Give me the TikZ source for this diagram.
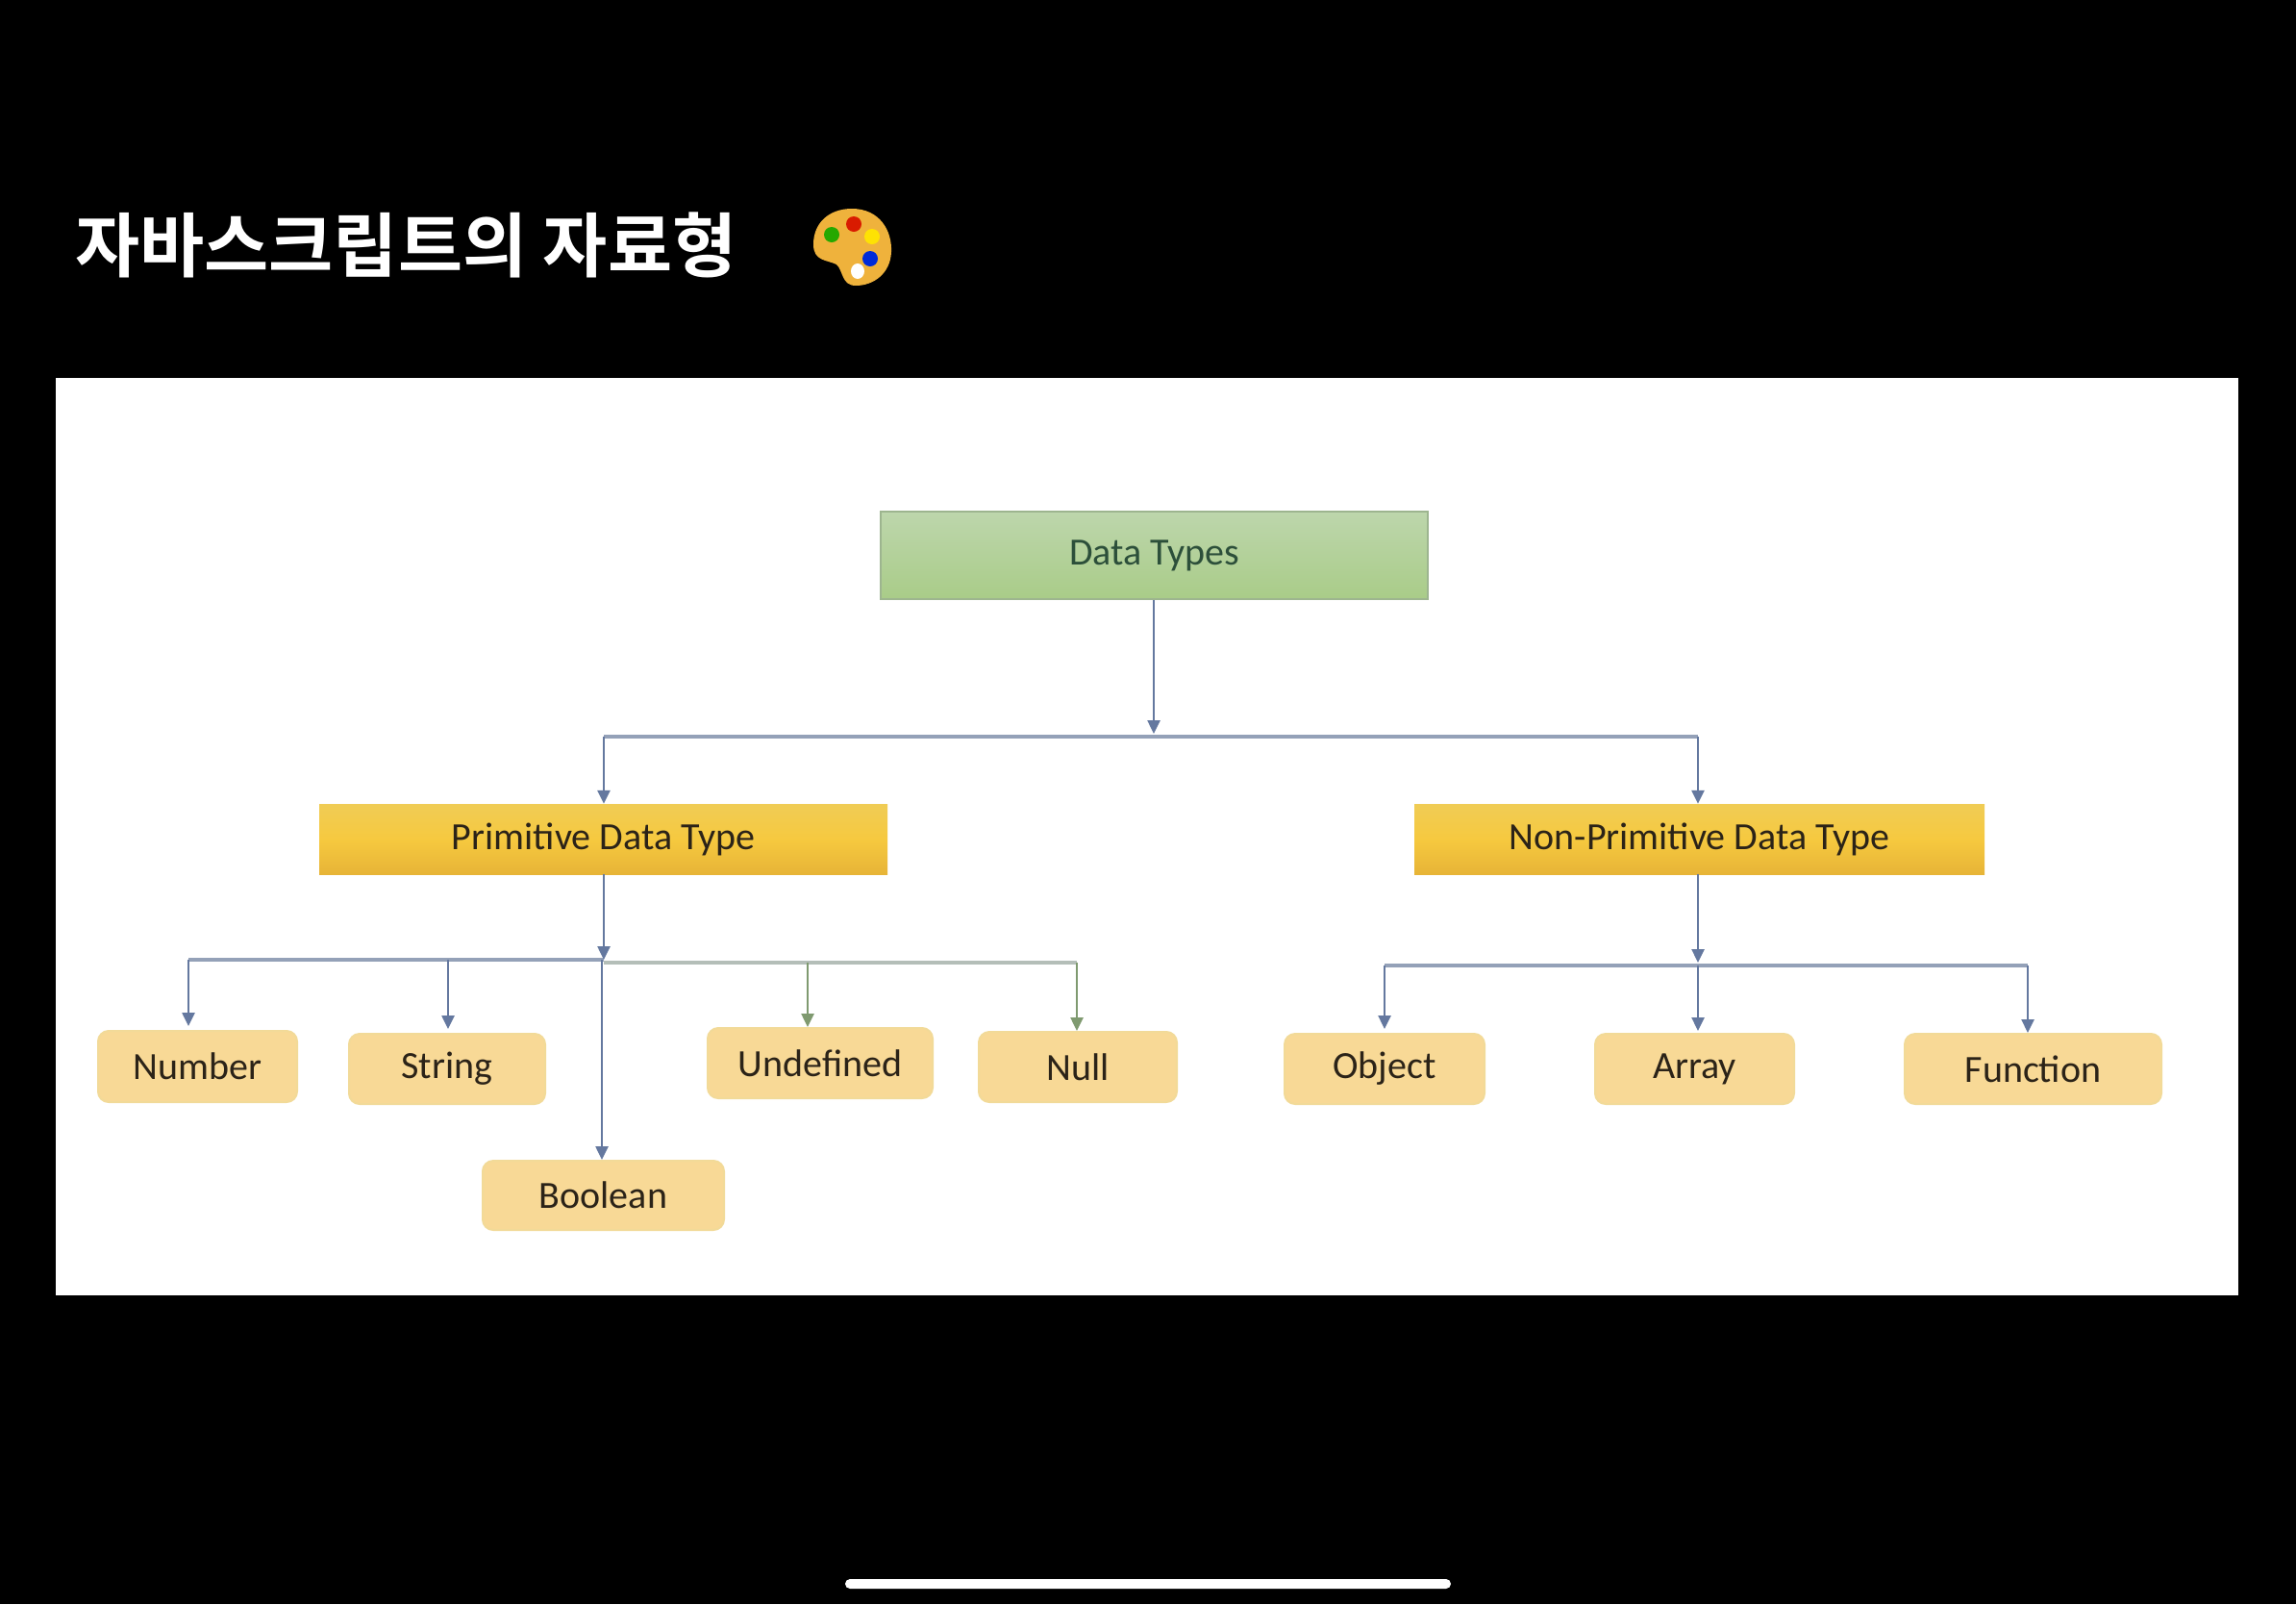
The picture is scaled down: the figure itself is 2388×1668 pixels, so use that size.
\documentclass[tikz,border=0pt]{standalone}
\usepackage{fontspec}
\setmainfont{Carlito}
\newfontfamily\krfont{Noto Sans CJK KR}[BoldFont={Noto Sans CJK KR Bold}]
\usetikzlibrary{arrows.meta,calc}
\definecolor{linkblue}{HTML}{64789F}
\definecolor{barblue}{HTML}{94A1B8}
\definecolor{linkgreen}{HTML}{7F9A70}
\definecolor{bargreen}{HTML}{B4BEB8}
\definecolor{inktext}{HTML}{2B2318}
\tikzset{
  x=1pt,y=-1pt,
  rootbox/.style={draw=rootedge,line width=2pt,top color=rootTop,bottom color=rootBot,text=rootink,inner sep=0pt,font=\fontsize{40}{44}\selectfont},
  midbox/.style={draw=none,top color=midTop,bottom color=midBot,middle color=midMid,text=inktext,inner sep=0pt,font=\fontsize{40}{44}\selectfont},
  leafbox/.style={draw=leafedge,line width=2pt,fill=leaffill,rounded corners=11pt,text=inktext,inner sep=0pt,font=\fontsize{40}{44}\selectfont},
  link/.style={draw=linkblue,line width=2.5pt},
  linkarrow/.style={link,-{Triangle[width=13pt,length=14pt]}},
  bar/.style={draw=barblue,line width=3.5pt},
  greenarrow/.style={draw=linkgreen,line width=2.5pt,-{Triangle[width=13pt,length=14pt]}},
  greenbar/.style={draw=bargreen,line width=3.5pt},
}
\definecolor{rootedge}{HTML}{9DB58F}
\definecolor{rootTop}{HTML}{BDD6AC}
\definecolor{rootBot}{HTML}{A9CC88}
\definecolor{rootink}{HTML}{2C4F3A}
\definecolor{midTop}{HTML}{F0CC55}
\definecolor{midMid}{HTML}{F6C93F}
\definecolor{midBot}{HTML}{E7B437}
\definecolor{leafedge}{HTML}{F2DA98}
\definecolor{leaffill}{HTML}{F8D996}
\definecolor{palOrange}{HTML}{EFB23C}
\begin{document}
\begin{tikzpicture}
\useasboundingbox (0,0) rectangle (2388,1668);
\fill[black] (0,0) rectangle (2388,1668);
\fill[white] (58,393) rectangle (2328,1347);
\fill[white,rounded corners=5pt] (879,1642) rectangle (1509,1652);

% title
\node[anchor=west,inner sep=0pt,text=white,font=\krfont\bfseries\fontsize{73}{80}\selectfont] (title) at (78,255) {자바스크립트의 자료형};
% palette emoji
\fill[palOrange] (886,217) .. controls (915,217) and (928,240) .. (927,262)
  .. controls (926,285) and (908,297) .. (890,297)
  .. controls (875,297) and (877,281) .. (870,275)
  .. controls (860,270) and (846,272) .. (846,254)
  .. controls (846,232) and (862,217) .. (886,217) -- cycle;
\fill[red!75!orange!85!black] (888,233) ellipse (8pt and 8pt);
\fill[green!60!black!85!yellow] (865,244) ellipse (8pt and 8pt);
\fill[yellow!85!orange] (907,246) ellipse (8pt and 8pt);
\fill[blue!80!cyan!85!black] (905,269) ellipse (8pt and 8pt);
\fill[white] (892,282) ellipse (7pt and 8pt);

% nodes
\node[rootbox,minimum width=569pt,minimum height=91pt] (root) at (1200.5,577.5) {Data Types};
\node[midbox,minimum width=591pt,minimum height=73pt] (prim) at (627.5,872.5) {Primitive Data Type};
\node[midbox,minimum width=593pt,minimum height=73pt] (nonprim) at (1767.5,872.5) {Non-Primitive Data Type};
\node[leafbox,minimum width=207pt,minimum height=74pt] (number) at (205.5,1109) {Number};
\node[leafbox,minimum width=204pt,minimum height=73pt] (string) at (465,1111.5) {String};
\node[leafbox,minimum width=234pt,minimum height=73pt] (undefined) at (853,1105.5) {Undefined};
\node[leafbox,minimum width=206pt,minimum height=73pt] (null) at (1121,1109.5) {Null};
\node[leafbox,minimum width=251pt,minimum height=72pt] (boolean) at (627.5,1243) {Boolean};
\node[leafbox,minimum width=208pt,minimum height=73pt] (object) at (1440,1111.5) {Object};
\node[leafbox,minimum width=207pt,minimum height=73pt] (array) at (1762.5,1111.5) {Array};
\node[leafbox,minimum width=267pt,minimum height=73pt] (function) at (2114.5,1111.5) {Function};

% junctions
\coordinate (topjoin) at (1200,766);
\coordinate (topleft) at (628,766);
\coordinate (topright) at (1766,766);
\coordinate (primjoin) at (628,998);
\coordinate (jnumber) at (196,998);
\coordinate (jstring) at (466,998);
\coordinate (jundef) at (840,1001);
\coordinate (jnull) at (1120,1001);
\coordinate (jbool) at (626,998);
\coordinate (npjoin) at (1766,1004);
\coordinate (jobject) at (1440,1004);
\coordinate (jarray) at (1766,1004);
\coordinate (jfunc) at (2109,1004);

% top tier
\draw[bar] (topleft) -- (topright);
\draw[linkarrow,shorten >=3pt] (root.south -| topjoin) -- (topjoin);
\draw[linkarrow] (topleft) -- (topleft |- prim.north);
\draw[linkarrow] (topright) -- (topright |- nonprim.north);

% primitive tier
\draw[bar] (jnumber) -- (primjoin);
\draw[greenbar] (primjoin |- jnull) -- (jnull);
\draw[linkarrow] (prim.south -| primjoin) -- (primjoin);
\draw[linkarrow,shorten >=4pt] (jnumber) -- (jnumber |- number.north);
\draw[linkarrow,shorten >=4pt] (jstring) -- (jstring |- string.north);
\draw[linkarrow] (jbool) -- (jbool |- boolean.north);
\draw[greenarrow] (jundef) -- (jundef |- undefined.north);
\draw[greenarrow] (jnull) -- (jnull |- null.north);

% non-primitive tier
\draw[bar] (jobject) -- (jfunc);
\draw[linkarrow,shorten >=3pt] (nonprim.south -| npjoin) -- (npjoin);
\draw[linkarrow,shorten >=4pt] (jobject) -- (jobject |- object.north);
\draw[linkarrow,shorten >=2pt] (jarray) -- (jarray |- array.north);
\draw[linkarrow] (jfunc) -- (jfunc |- function.north);
\end{tikzpicture}
\end{document}
